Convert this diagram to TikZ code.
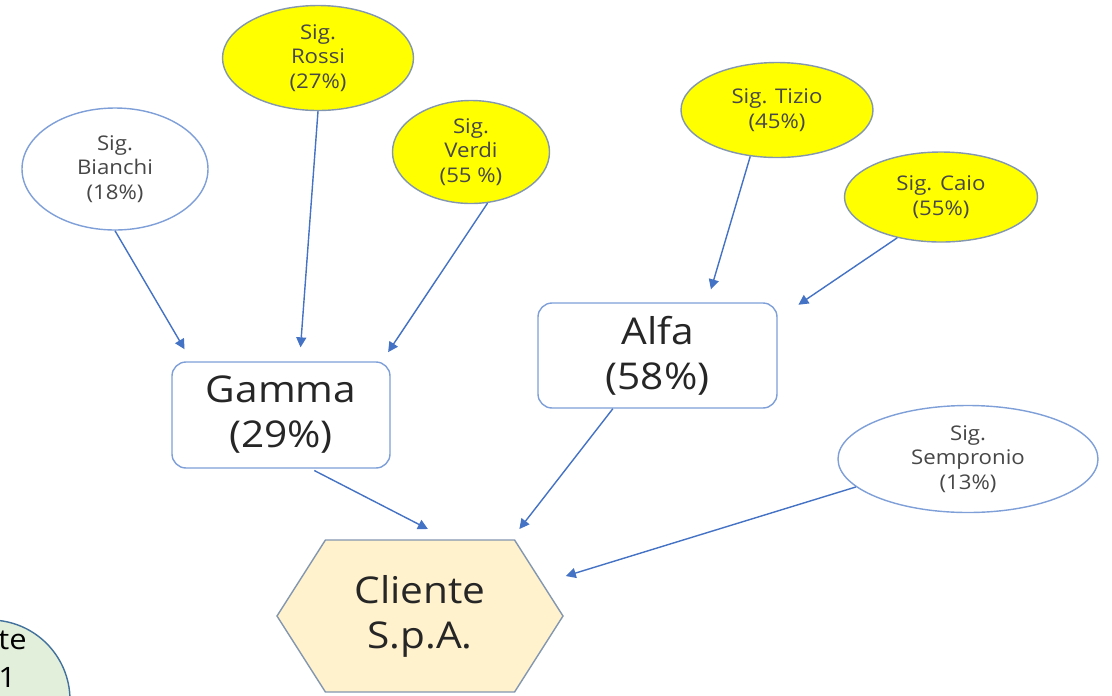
\documentclass[tikz,border=0pt]{standalone}
\usepackage{fontspec}
\setmainfont[FakeStretch=1.1]{Open Sans}
\usetikzlibrary{arrows.meta,positioning,shapes.geometric,shapes.symbols}
\definecolor{Link}{HTML}{4472C4}
\definecolor{Frame}{HTML}{7F9FD8}
\definecolor{Rim}{HTML}{8497B0}
\definecolor{Canary}{HTML}{FFFF00}
\definecolor{Cream}{HTML}{FFF2CC}
\definecolor{Mint}{HTML}{E2EFDA}
\definecolor{Steel}{HTML}{41719C}
\definecolor{Ink}{HTML}{262626}

\begin{document}
\begin{tikzpicture}[
  on grid,
  person/.style={ellipse,draw=Frame,fill=white,line width=0.8pt,inner sep=0pt,align=center,text=Ink!85,font=\fontsize{11.5}{14}\selectfont},
  owner/.style={person,draw=Rim,fill=Canary},
  company/.style={rounded corners=8pt,draw=Frame,fill=white,line width=0.8pt,minimum width=4.36cm,minimum height=2.12cm,align=center,text=Ink,font=\fontsize{21}{25.6}\selectfont},
  target/.style={signal,signal to=east and west,signal pointer angle=115,draw=Rim,fill=Cream,line width=0.8pt,minimum width=5.72cm,minimum height=3.04cm,align=center,text=Ink,font=\fontsize{21}{25.6}\selectfont},
  arrow/.style={-{Triangle[length=2mm,width=2mm]},line width=0.8pt,draw=Link}
]
\useasboundingbox (0,0) rectangle (22.24,-13.9);
\node[target] (cli) at (8.4,-12.32) {Cliente\\S.p.A.};
\node[company,above left=4.02cm and 2.78cm of cli] (gamma) {Gamma\\(29\%)};
\node[company,minimum width=4.78cm,minimum height=2.1cm,above right=5.21cm and 4.75cm of cli] (alfa) {Alfa\\(58\%)};
\node[person,minimum width=3.72cm,minimum height=2.44cm,above left=4.92cm and 3.32cm of gamma] (bianchi) {Sig.\\Bianchi\\(18\%)};
\node[owner,minimum width=3.82cm,minimum height=2.1cm,above right=7.14cm and 0.74cm of gamma] (rossi) {Sig.\\Rossi\\(27\%)};
\node[owner,minimum width=3.14cm,minimum height=2.06cm,above right=5.26cm and 3.8cm of gamma] (verdi) {Sig.\\Verdi\\(55 \%)};
\node[owner,minimum width=3.84cm,minimum height=1.9cm,above right=4.91cm and 2.39cm of alfa] (tizio) {Sig. Tizio\\(45\%)};
\node[owner,minimum width=3.86cm,minimum height=1.8cm,above right=3.17cm and 5.67cm of alfa] (caio) {Sig. Caio\\(55\%)};
\node[person,minimum width=5.2cm,minimum height=2.14cm,below right=2.07cm and 6.21cm of alfa] (sempronio) {Sig.\\Sempronio\\(13\%)};
% legend bubble, cut by the page edge
\node[circle,draw=Steel,fill=Mint,line width=0.8pt,minimum size=3.2cm,below left=1.68cm and 8.6cm of cli] (side) {};
\node[anchor=north west,align=left,inner sep=0pt,font=\fontsize{16}{21.5}\selectfont] (sidetxt) at (-0.04,-12.62) {te\\1};
\draw[arrow,shorten >=0.28cm] (bianchi.south) -- (gamma.149);
\draw[arrow,shorten >=0.28cm] (rossi.south) -- (gamma.71);
\draw[arrow,shorten >=0.22cm] (verdi.-72) -- (gamma.28);
\draw[arrow,shorten >=0.27cm] (tizio.-120) -- (alfa.47);
\draw[arrow,shorten >=0.5cm] (caio.-137) -- (alfa.17);
\draw[arrow,shorten <=0.08cm,shorten >=0.45cm] (gamma.-61) -- (cli.70);
\draw[arrow,shorten >=0.26cm] (alfa.-130) -- (cli.40);
\draw[arrow,shorten >=0.48cm] (sempronio.-166) -- (cli.15);
\end{tikzpicture}
\end{document}
